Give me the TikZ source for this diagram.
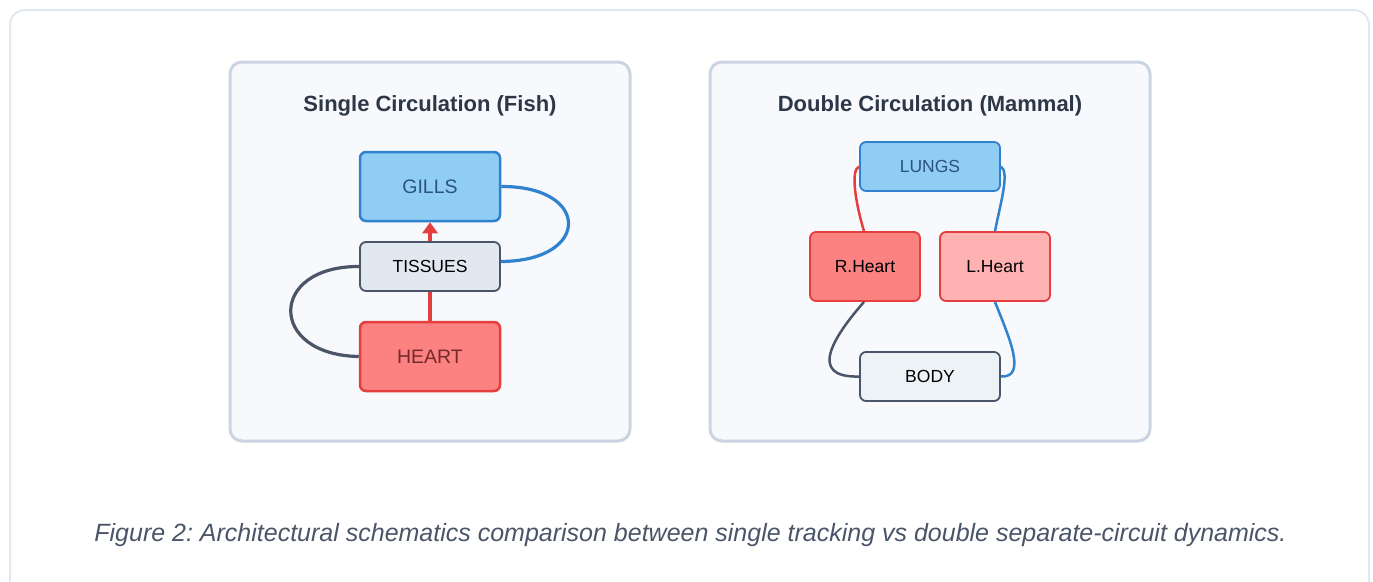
\documentclass[tikz,border=0pt]{standalone}
\usepackage{fontspec}
\setmainfont{Liberation Sans}
\usetikzlibrary{arrows.meta}
\frenchspacing
\definecolor{outerb}{HTML}{E2E8F0}
\definecolor{panelb}{HTML}{CBD5E1}
\definecolor{panelf}{HTML}{F7F9FC}
\definecolor{titlec}{HTML}{2D3748}
\definecolor{bluef}{HTML}{90CDF4}
\definecolor{blueb}{HTML}{3182CE}
\definecolor{bluet}{HTML}{2C5282}
\definecolor{redf}{HTML}{FC8181}
\definecolor{redb}{HTML}{E53E3E}
\definecolor{redt}{HTML}{742A2A}
\definecolor{pinkf}{HTML}{FEB2B2}
\definecolor{greyf}{HTML}{E2E8F0}
\definecolor{greyf2}{HTML}{EDF2F7}
\definecolor{greyb}{HTML}{4A5568}
\definecolor{capc}{HTML}{4A5568}
\tikzset{
  panel/.style={draw=panelb, line width=3pt, fill=panelf, rounded corners=12pt},
  ptitle/.style={font=\fontsize{22}{25}\selectfont\bfseries, text=titlec},
  organ/.style={rectangle, rounded corners=6pt, inner sep=0pt},
  bignode/.style={organ, minimum width=140pt, minimum height=69pt, line width=2.5pt, font=\fontsize{19.5}{22}\selectfont},
  midnode/.style={organ, minimum width=140pt, minimum height=49pt, line width=1.8pt, font=\fontsize{17.5}{20}\selectfont},
  hnode/.style={organ, minimum width=110pt, minimum height=69pt, line width=1.8pt, font=\fontsize{17.5}{20}\selectfont},
  fishline/.style={line width=3.2pt},
  mamline/.style={line width=2.5pt},
}
\begin{document}
\begin{tikzpicture}[x=1pt,y=-1pt]
\useasboundingbox (0,0) rectangle (1373,581);
\draw[outerb, line width=2pt, fill=white, rounded corners=15pt] (10,10) rectangle (1369,600);
% panels
\draw[panel] (230,62) rectangle (630,441);
\draw[panel] (710,62) rectangle (1150,441);
\node[ptitle] (t1) at (430,105.5) {Single Circulation (Fish)};
\node[ptitle] (t2) at (930,105.5) {Double Circulation (Mammal)};
% fish
\node[bignode, fill=bluef, draw=blueb, text=bluet] (gills) at (430,186.5) {GILLS};
\node[bignode, fill=redf, draw=redb, text=redt] (heart) at (430,356.5) {HEART};
\draw[fishline, redb, -{Triangle[width=15pt,length=11pt]}] (heart.north) -- (gills.south);
\node[midnode, fill=greyf, draw=greyb, text=black] (tissues) at (430,266.5) {TISSUES};
\draw[fishline, blueb] (gills.east) .. controls (591,186) and (591,261) .. ([yshift=5pt]tissues.east);
\draw[fishline, greyb] (tissues.west) .. controls (268,266) and (268,355) .. (heart.west);
% mammal
\node[midnode, fill=bluef, draw=blueb, text=bluet] (lungs) at (930,166.5) {LUNGS};
\node[hnode, fill=redf, draw=redb, text=black] (rheart) at (865,266.5) {R.Heart};
\node[hnode, fill=pinkf, draw=redb, text=black] (lheart) at (995,266.5) {L.Heart};
\node[midnode, fill=greyf2, draw=greyb, text=black] (body) at (930,376.5) {BODY};
\draw[mamline, redb] (lungs.west) .. controls (850,170) and (856,205) .. ([xshift=-1pt]rheart.north);
\draw[mamline, blueb] (lungs.east) .. controls (1010,172) and (1000,205) .. (lheart.north);
\draw[mamline, greyb] ([xshift=-1pt]rheart.south) .. controls (835,335) and (806,378) .. (body.west);
\draw[mamline, blueb] (lheart.south) .. controls (1008,335) and (1028,378) .. (body.east);
% caption
\node[font=\fontsize{25}{29}\selectfont\itshape, text=capc] (cap) at (690.5,535) {Figure 2: Architectural schematics comparison between single tracking vs double separate-circuit dynamics.};
\end{tikzpicture}
\end{document}
